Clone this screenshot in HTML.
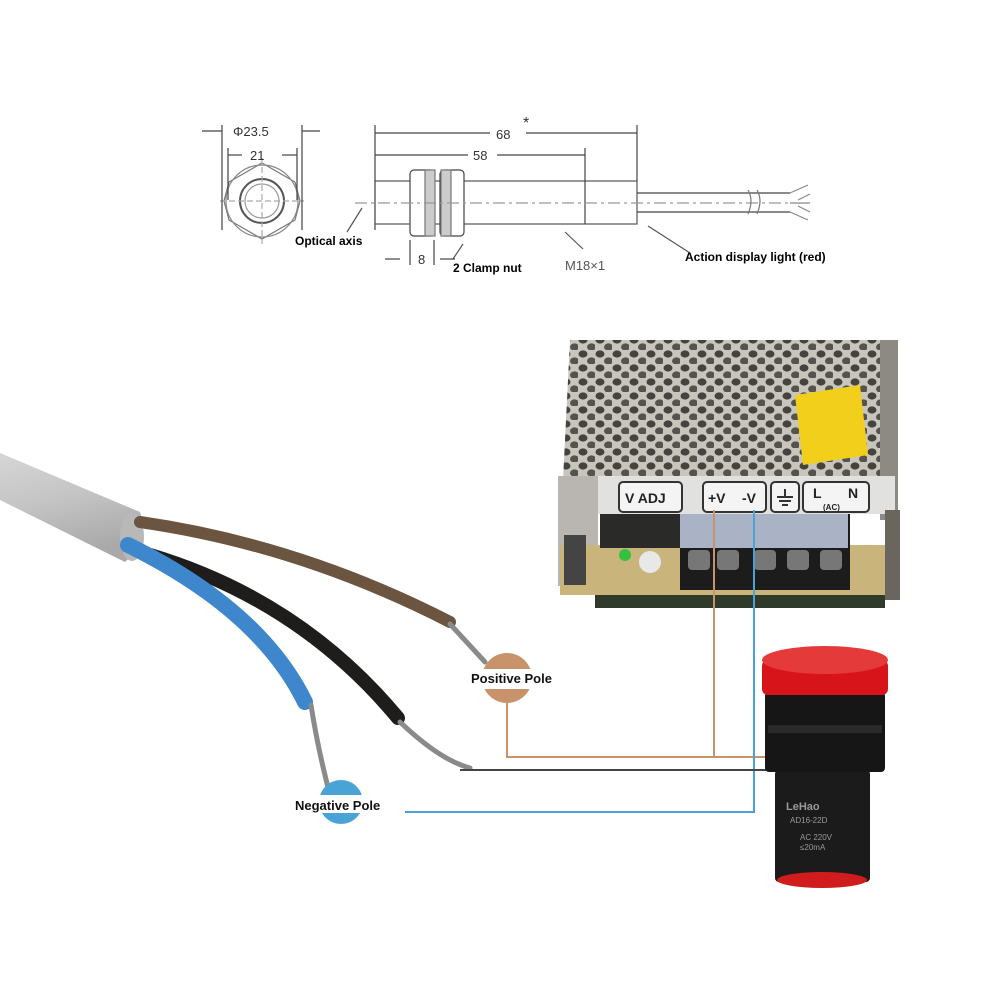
<!DOCTYPE html>
<html><head><meta charset="utf-8"><style>
html,body{margin:0;padding:0;background:#fff;}
svg{display:block;}
text{font-family:"Liberation Sans",sans-serif;}
</style></head><body>
<svg width="1000" height="1000" viewBox="0 0 1000 1000" xmlns="http://www.w3.org/2000/svg">
<defs>
<pattern id="holes" x="0" y="0" width="17" height="14" patternUnits="userSpaceOnUse">
<rect width="17" height="14" fill="#c8c5bd"/>
<ellipse cx="5" cy="4" rx="4.5" ry="3.6" fill="#45433e"/>
<ellipse cx="13.5" cy="11" rx="4.5" ry="3.6" fill="#55534d"/>
</pattern>
<linearGradient id="sheath" x1="0" y1="0" x2="0.3" y2="1">
<stop offset="0" stop-color="#d6d6d6"/><stop offset="0.5" stop-color="#c4c4c4"/><stop offset="1" stop-color="#a9a9a9"/>
</linearGradient>
</defs>
<rect width="1000" height="1000" fill="#fff"/>

<g stroke="#444" stroke-width="1.2" fill="none">
 <polygon points="262,163 295,182 300,201 295,220 262,239 229,220 224,201 229,182" stroke="#777"/>
 <circle cx="262" cy="201" r="36" stroke="#888"/>
 <circle cx="262" cy="201" r="22" stroke="#555" stroke-width="2"/>
 <circle cx="262" cy="201" r="17" stroke="#999"/>
 <line x1="220" y1="201" x2="304" y2="201" stroke="#aaa" stroke-dasharray="6,3"/>
 <line x1="262" y1="158" x2="262" y2="244" stroke="#aaa" stroke-dasharray="6,3"/>
 <line x1="222" y1="125" x2="222" y2="230"/>
 <line x1="302" y1="125" x2="302" y2="230"/>
 <line x1="228" y1="148" x2="228" y2="200"/>
 <line x1="297" y1="148" x2="297" y2="200"/>
 <line x1="202" y1="131" x2="222" y2="131"/><line x1="302" y1="131" x2="320" y2="131"/>
 <line x1="228" y1="155" x2="242" y2="155"/><line x1="282" y1="155" x2="297" y2="155"/>
 <line x1="375" y1="125" x2="375" y2="230"/>
 <line x1="637" y1="125" x2="637" y2="182"/>
 <line x1="585" y1="148" x2="585" y2="182"/>
 <line x1="375" y1="133" x2="490" y2="133"/><line x1="526" y1="133" x2="637" y2="133"/>
 <line x1="375" y1="155" x2="468" y2="155"/><line x1="497" y1="155" x2="585" y2="155"/>
 <rect x="375" y="181" width="262" height="43" stroke="#555"/>
 <line x1="585" y1="181" x2="585" y2="224"/>
 <rect x="410" y="170" width="24" height="66" rx="4" fill="#fff"/>
 <rect x="440" y="170" width="24" height="66" rx="4" fill="#fff"/>
 <rect x="425" y="170" width="10" height="66" fill="#ccc" stroke="#777"/>
 <rect x="441" y="170" width="10" height="66" fill="#ccc" stroke="#777"/>
 <line x1="637" y1="193" x2="790" y2="193"/>
 <line x1="637" y1="212" x2="790" y2="212"/>
 <line x1="355" y1="203" x2="790" y2="203" stroke="#999" stroke-dasharray="12,4,3,4"/>
 <path d="M748,190 q6,10 0,24 M757,190 q6,10 0,24" stroke="#777"/>
 <path d="M790,193 l18,-8 M790,203 l20,0 M790,212 l18,8 M798,200 l12,-6 M798,206 l12,6" stroke="#888"/>
 <line x1="347" y1="232" x2="362" y2="208" stroke="#555"/>
 <line x1="453" y1="259" x2="463" y2="244" stroke="#555"/>
 <line x1="583" y1="249" x2="565" y2="232" stroke="#555"/>
 <line x1="690" y1="253" x2="648" y2="226" stroke="#555"/>
 <line x1="385" y1="259" x2="400" y2="259"/><line x1="440" y1="259" x2="455" y2="259"/>
 <line x1="410" y1="240" x2="410" y2="265"/><line x1="434" y1="240" x2="434" y2="265"/>
</g>
<g fill="#333" font-size="13">
 <text x="233" y="136">Φ23.5</text>
 <text x="250" y="160">21</text>
 <text x="496" y="139">68</text>
 <text x="523" y="128" font-size="16">*</text>
 <text x="473" y="160">58</text>
 <text x="418" y="264">8</text>
 <text x="565" y="270" fill="#555">M18×1</text>
</g>
<g fill="#000" font-size="12" font-weight="bold">
 <text x="295" y="245">Optical axis</text>
 <text x="453" y="272">2 Clamp nut</text>
 <text x="685" y="261">Action display light (red)</text>
</g>

<path d="M570,340 L892,340 L897,480 L563,480 Z" fill="url(#holes)"/>
<rect x="880" y="340" width="18" height="180" fill="#8d8a84"/>
<polygon points="795,395 860,385 868,455 803,465" fill="#f2cf1a"/>
<rect x="560" y="476" width="335" height="38" fill="#e1e1df"/>
<rect x="558" y="476" width="40" height="110" fill="#b9b6b1"/>
<rect x="560" y="545" width="340" height="50" fill="#c9b57c"/>
<rect x="595" y="595" width="290" height="13" fill="#2f3a2a"/>
<rect x="600" y="514" width="80" height="34" fill="#2a2a28"/>
<rect x="680" y="514" width="170" height="76" fill="#1c1c1c"/>
<rect x="680" y="514" width="168" height="34" fill="#aab3c6"/>
<g fill="#777">
<rect x="688" y="550" width="22" height="20" rx="4"/><rect x="717" y="550" width="22" height="20" rx="4"/><rect x="754" y="550" width="22" height="20" rx="4"/><rect x="787" y="550" width="22" height="20" rx="4"/><rect x="820" y="550" width="22" height="20" rx="4"/>
</g>
<circle cx="625" cy="555" r="6" fill="#36c040"/>
<circle cx="650" cy="562" r="11" fill="#e8e8e8"/>
<rect x="564" y="535" width="22" height="50" fill="#444"/>
<rect x="885" y="510" width="15" height="90" fill="#6a665e"/>
<g fill="none" stroke="#333" stroke-width="2">
<rect x="619" y="482" width="63" height="30" rx="4" fill="#f4f4f4"/>
<rect x="703" y="482" width="63" height="30" rx="4" fill="#f4f4f4"/>
<rect x="771" y="482" width="28" height="30" rx="4" fill="#f4f4f4"/>
<rect x="803" y="482" width="66" height="30" rx="4" fill="#f4f4f4"/>
<path d="M785,489 v8 M777,497 h16 M779,501 h12 M782,505 h6"/>
</g>
<g font-weight="bold" fill="#222" font-size="14">
<text x="625" y="503">V  ADJ</text>
<text x="708" y="503">+V</text><text x="742" y="503">-V</text>
<text x="813" y="498">L</text><text x="848" y="498">N</text>
<text x="823" y="510" font-size="8">(AC)</text>
</g>

<path d="M0,453 L140,512 Q150,540 125,562 L0,500 Z" fill="url(#sheath)"/>
<ellipse cx="132" cy="537" rx="12" ry="24" fill="#b8b8b8"/>
<path d="M140,522 Q300,545 450,622" stroke="#6b5440" stroke-width="12" fill="none" stroke-linecap="round"/>
<path d="M150,555 Q300,600 398,718" stroke="#1f1d1b" stroke-width="14" fill="none" stroke-linecap="round"/>
<path d="M128,545 Q260,610 305,702" stroke="#3f87cc" stroke-width="16" fill="none" stroke-linecap="round"/>
<path d="M450,624 L485,662" stroke="#8a8a8a" stroke-width="5" stroke-linecap="round"/>
<path d="M311,705 Q318,750 330,795" stroke="#8a8a8a" stroke-width="5" fill="none" stroke-linecap="round"/>
<path d="M400,722 Q440,760 470,768" stroke="#8a8a8a" stroke-width="5" fill="none" stroke-linecap="round"/>

<g fill="none" stroke-width="2">
<path d="M507,700 V757 H775" stroke="#c8936a"/>
<path d="M714,510 V757" stroke="#c8936a"/>
<path d="M754,510 V812 H360" stroke="#4aa3d6"/>
<path d="M460,770 H785" stroke="#444"/>
</g>
<circle cx="507" cy="678" r="25" fill="#c8936a"/>
<rect x="470" y="669" width="95" height="20" fill="#fff"/>
<text x="471" y="683" font-size="13" font-weight="bold" fill="#111">Positive Pole</text>
<circle cx="341" cy="802" r="22" fill="#4aa3d6"/>
<rect x="293" y="795" width="112" height="18" fill="#fff"/>
<text x="295" y="810" font-size="13" font-weight="bold" fill="#111">Negative Pole</text>

<rect x="775" y="770" width="95" height="112" rx="4" fill="#1b1b1b"/>
<ellipse cx="822" cy="880" rx="45" ry="8" fill="#d01c1c"/>
<rect x="765" y="692" width="120" height="80" rx="4" fill="#161616"/>
<rect x="768" y="725" width="114" height="8" fill="#2a2a2a"/>
<rect x="762" y="660" width="126" height="35" rx="6" fill="#d8141b"/>
<ellipse cx="825" cy="660" rx="63" ry="14" fill="#e53a3a"/>
<g fill="#999" font-size="8">
<text x="786" y="810" font-size="11" font-weight="bold">LeHao</text>
<text x="790" y="823">AD16-22D</text>
<text x="800" y="840">AC 220V</text>
<text x="800" y="850">≤20mA</text>
</g>
</svg>
</body></html>
